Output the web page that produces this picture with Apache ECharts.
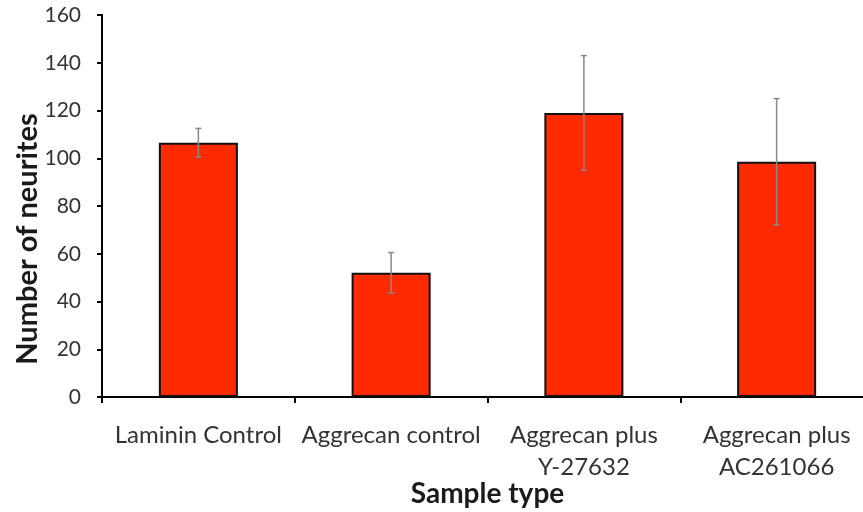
<!DOCTYPE html>
<html><head><meta charset="utf-8">
<script src="https://cdn.jsdelivr.net/npm/echarts@6/dist/echarts.min.js"></script>
<style>html,body{margin:0;padding:0;background:#fff;overflow:hidden;width:863px;height:512px}#c{width:873px;height:512px}</style>
</head><body><div id="c"></div>
<script>
var categories = ['Laminin Control', 'Aggrecan control', 'Aggrecan plus\nY-27632', 'Aggrecan plus\nAC261066'];
var values = [106.5, 52, 119, 98.5];
var errors = [6, 8.5, 24, 26.5];
var yTicks = [0, 20, 40, 60, 80, 100, 120, 140, 160];

var chart = echarts.init(document.getElementById('c'));
var font = 'Lato, "Open Sans", sans-serif';
chart.setOption({
  animation: false,
  grid: { left: 102, right: 0, top: 15, bottom: 115, containLabel: false, outerBoundsMode: 'none' },
  xAxis: {
    type: 'category', data: categories,
    name: 'Sample type', nameLocation: 'middle', nameGap: 83, nameMoveOverlap: false,
    nameTextStyle: { fontFamily: font, fontWeight: 'bold', fontSize: 28, color: '#1a1a1a' },
    axisLine: { lineStyle: { color: '#000', width: 2 } },
    axisTick: { show: true, length: 6, lineStyle: { color: '#000', width: 2 } },
    axisLabel: { fontFamily: font, fontSize: 24, color: '#333', margin: 22, lineHeight: 32, interval: 0 }
  },
  yAxis: {
    type: 'value', min: 0, max: 160, interval: 20,
    name: 'Number of neurites', nameLocation: 'middle', nameGap: 60, nameRotate: 90, nameMoveOverlap: false,
    nameTextStyle: { fontFamily: font, fontWeight: 'bold', fontSize: 29, color: '#1a1a1a', padding: [0, 66, 0, 0] },
    axisLine: { show: true, lineStyle: { color: '#000', width: 2 } },
    axisTick: { show: true, length: 5, lineStyle: { color: '#000', width: 2 } },
    axisLabel: { fontFamily: font, fontSize: 21, color: '#333', margin: 21,
      formatter: function (v) { return yTicks.indexOf(v) >= 0 ? String(v) : ''; } },
    splitLine: { show: false }
  },
  series: [
    {
      type: 'bar', data: values, barWidth: '41%',
      itemStyle: { color: '#ff2a00', borderColor: '#111', borderWidth: 2 }
    },
    {
      type: 'custom',
      data: values.map(function (v, i) { return [i, v - errors[i], v + errors[i]]; }),
      renderItem: function (params, api) {
        var x = api.value(0);
        var lo = api.coord([x, api.value(1)]);
        var hi = api.coord([x, api.value(2)]);
        var cw = 3;
        var st = { stroke: '#888', lineWidth: 1.5 };
        return { type: 'group', children: [
          { type: 'line', shape: { x1: hi[0], y1: hi[1], x2: lo[0], y2: lo[1] }, style: st },
          { type: 'line', shape: { x1: hi[0] - cw, y1: hi[1], x2: hi[0] + cw, y2: hi[1] }, style: st },
          { type: 'line', shape: { x1: lo[0] - cw, y1: lo[1], x2: lo[0] + cw, y2: lo[1] }, style: st }
        ] };
      },
      z: 5
    }
  ]
});
</script></body></html>
